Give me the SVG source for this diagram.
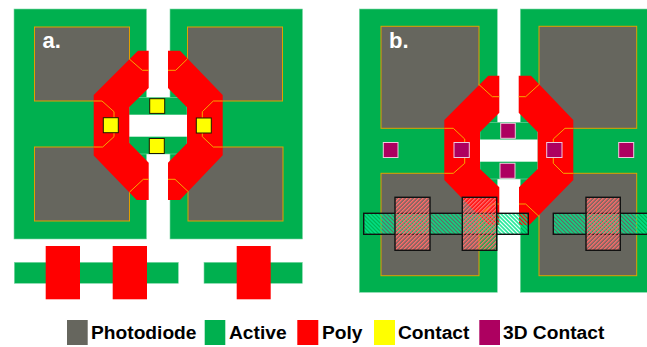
<svg xmlns="http://www.w3.org/2000/svg" width="647" height="347" viewBox="0 0 647 347">
<style>
.active{fill:#00b04f;stroke:#7fd8a7;stroke-width:.6}
.pd{fill:#66665e;stroke:#e0a000;stroke-width:1}
.poly{fill:#ff0000}
.wire{fill:none;stroke:#f5a800;stroke-width:1}
.contact{fill:#ffff00;stroke:#1a1a00;stroke-width:1}
.c3d{fill:#ad0060;stroke:#f0c8dc;stroke-width:1}
.hole{fill:#fff}
.haa{fill:url(#hg);stroke:#111;stroke-width:1.4}
.hpo{fill:url(#hr);stroke:#111;stroke-width:1.4}
.lg{font:bold 19.2px "Liberation Sans",Arial,sans-serif;fill:#000}
.lb{font:bold 22px "Liberation Sans",Arial,sans-serif;fill:#fff}
</style>
<defs>
<pattern id="hg" width="2.83" height="2.83" patternUnits="userSpaceOnUse" patternTransform="rotate(45)"><rect width="2.83" height="1.5" fill="#00e68a"/></pattern>
<pattern id="hr" width="2.83" height="2.83" patternUnits="userSpaceOnUse" patternTransform="rotate(-45)"><rect width="2.83" height="1.5" fill="#ff6a6a"/></pattern>
</defs>
<rect width="647" height="347" fill="#fff"/>
<g id="panel-a">
<g id="a-active"><rect class="active" x="14" y="9" width="132.5" height="230"/><rect class="active" x="170" y="9" width="132.5" height="230"/><rect class="active" x="129" y="97.3" width="58" height="56.7"/><rect class="hole" x="129" y="114.7" width="58" height="22"/></g>
<g id="a-photodiodes"><rect class="pd" x="34.5" y="27" width="95" height="74"/><rect class="pd" x="34.5" y="147" width="95" height="74"/><rect class="pd" x="187.5" y="27" width="95" height="74"/><rect class="pd" x="188" y="147" width="95" height="74"/></g>
<g id="a-poly"><polygon class="poly" points="138,50.7 148.7,50.7 148.7,88 129.3,107 129.3,143 148.7,162.7 148.7,200 136.7,200 93.7,155.5 93.7,95"/><polygon class="poly" points="168,50.7 180,50.7 222.7,95 222.7,155.3 180,200 168,200 168,162.7 187,143.3 187,107.3 168,88"/></g>
<g id="a-wires"><path class="wire" d="M129.3 59L142.3 70.3H148.7M93.7 101H102L114 111.7V117.7M93.7 147H102.7L114 136.7V132.7M129.3 192.3L143.3 179.3H148.7M168 70.3H175.7L187.3 59M222.7 101H213.3L202.3 111.7V117.7M222.7 147H213.3L202.3 136.7V132.7M168 179.3H175L188.3 191.7"/></g>
<g id="a-contacts"><rect class="contact" x="149.7" y="98.7" width="15" height="14.7"/><rect class="contact" x="149.3" y="138.5" width="15" height="15"/><rect class="contact" x="103.3" y="117.7" width="15" height="15"/><rect class="contact" x="196.3" y="118" width="15" height="15"/></g>
<text class="lb" x="42.5" y="48">a.</text>
<g id="a-section"><rect class="active" x="14.3" y="262.3" width="164" height="21"/><rect class="active" x="204" y="262.3" width="98.3" height="21"/><rect class="poly" x="45.7" y="246" width="34.3" height="53.3"/><rect class="poly" x="112.7" y="246" width="34.3" height="53.3"/><rect class="poly" x="236.7" y="246" width="34" height="53.3"/></g>
</g>
<g id="panel-b">
<g id="b-active"><rect class="active" x="359.3" y="9" width="138" height="283.3"/><rect class="active" x="520.3" y="9" width="127" height="283.3"/><rect class="active" x="480" y="122.3" width="57.7" height="56.7"/><rect class="hole" x="480" y="139.5" width="57.7" height="22.2"/></g>
<g id="b-photodiodes"><rect class="pd" x="381" y="26.3" width="98" height="102"/><rect class="pd" x="381" y="173.3" width="98" height="102.4"/><rect class="pd" x="539" y="26.3" width="97.7" height="102"/><rect class="pd" x="539" y="173.3" width="97.7" height="102.4"/></g>
<g id="b-poly"><polygon class="poly" points="488.3,75.7 499.3,75.7 499.3,112.7 480,132 480,169 499.3,187.3 499.3,225 488,225 444.3,180 444.3,120"/><polygon class="poly" points="518.7,75.7 531,75.7 573.3,120 573.3,180 529.3,225 519,225 519,187.3 537.7,169 537.7,132 518.7,112.7"/></g>
<g id="b-wires"><path class="wire" d="M478.7 84.3L492.3 96.7H499.3M518.7 96.7H525.7L539.3 84.3M444.3 128.3H453.3L464.7 139V142.7M444.3 173.3H453.3L464.7 163.3V157.7M573.3 128.3H565L553.3 139V142.7M573.3 173.3H563.3L553.3 163.3V157.7M478.7 216L492.7 204H499.3M519 204H525.7L539.3 216.7"/></g>
<g id="b-contacts"><rect class="c3d" x="500.7" y="123.3" width="14.6" height="15"/><rect class="c3d" x="500" y="163.3" width="15" height="15"/><rect class="c3d" x="454" y="142.5" width="15.3" height="15"/><rect class="c3d" x="546.7" y="142.5" width="15.3" height="15"/><rect class="c3d" x="383.3" y="142.5" width="14.7" height="15"/><rect class="c3d" x="618.7" y="142.5" width="15" height="15"/></g>
<text class="lb" x="389" y="48">b.</text>
<g id="b-overlay"><rect class="haa" x="363.7" y="213.3" width="164.6" height="21"/><rect class="haa" x="553.3" y="213.3" width="95" height="21"/><rect class="hpo" x="395" y="197.3" width="35" height="53"/><rect class="hpo" x="462.3" y="197.3" width="34.4" height="53"/><rect class="hpo" x="586" y="197.3" width="34.3" height="53"/></g>
</g>
<g id="legend">
<rect x="67" y="320" width="20.7" height="25" fill="#66665e"/><text class="lg" x="91" y="339">Photodiode</text>
<rect x="204.7" y="320" width="20.6" height="25" fill="#00b04f"/><text class="lg" x="229" y="339">Active</text>
<rect x="297.3" y="320" width="21" height="25" fill="#ff0000"/><text class="lg" x="322" y="339">Poly</text>
<rect x="374" y="320" width="21" height="25" fill="#ffff00"/><text class="lg" x="398" y="339">Contact</text>
<rect x="479.3" y="320" width="20.7" height="25" fill="#ad0060"/><text class="lg" x="503" y="339">3D Contact</text>
</g>
</svg>
